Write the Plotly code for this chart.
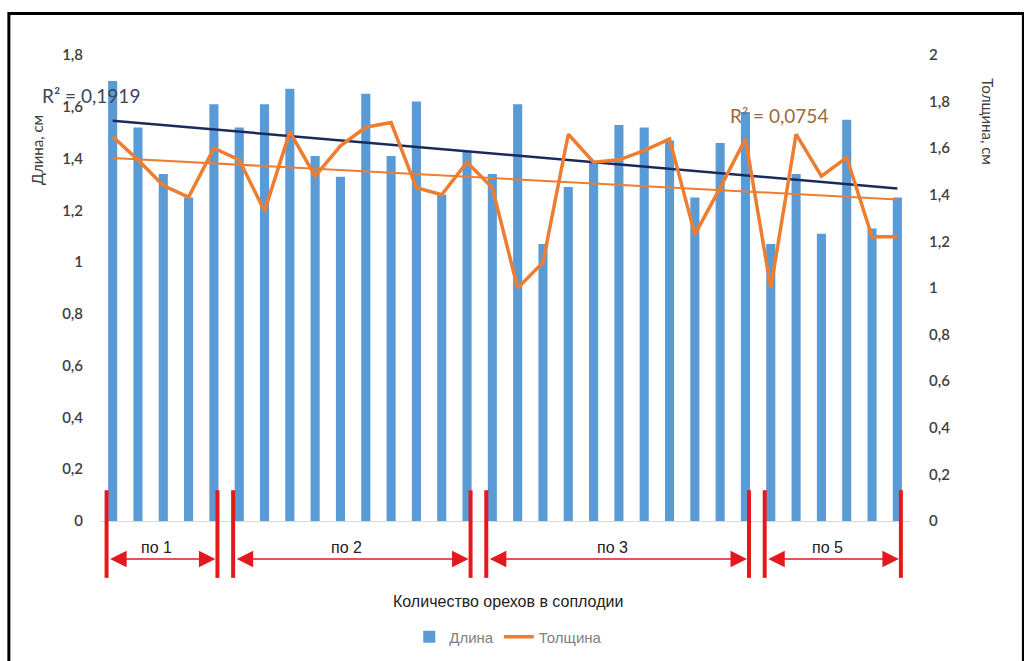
import numpy as np
import plotly.graph_objects as go

# ---- data ----
dlina = [1.70, 1.52, 1.34, 1.25, 1.61,
         1.52, 1.61, 1.67, 1.41, 1.33, 1.65, 1.41, 1.62, 1.26, 1.43,
         1.34, 1.61, 1.07, 1.29, 1.39, 1.53, 1.52, 1.47, 1.25, 1.46, 1.58,
         1.07, 1.34, 1.11, 1.55, 1.13, 1.25]
tolshchina = [1.65, 1.55, 1.44, 1.39, 1.60,
              1.55, 1.33, 1.67, 1.48, 1.61, 1.69, 1.71, 1.43, 1.40, 1.54,
              1.43, 1.00, 1.11, 1.66, 1.54, 1.55, 1.59, 1.64, 1.23, 1.43, 1.64,
              1.00, 1.66, 1.48, 1.56, 1.22, 1.22]
group_labels = ["по 1", "по 2", "по 3", "по 5"]
group_sizes = [5, 10, 11, 6]
r2_texts = ["R² = 0,1919", "R² = 0,0754"]
left_title = "Длина, см"
right_title = "Толщина, см"
x_title = "Количество орехов в соплодии"

x = np.arange(len(dlina))

# linear trendlines
k1, b1 = np.polyfit(x, dlina, 1)
k2, b2 = np.polyfit(x, tolshchina, 1)
trend1 = k1 * x + b1
trend2 = k2 * x + b2

BLUE = "#5B9BD5"
ORANGE = "#ED7D31"
NAVY = "#1B2A5C"
RED = "#E3191E"

fig = go.Figure()
fig.add_trace(go.Bar(x=x, y=dlina, name="Длина", marker_color=BLUE,
                     marker_line_width=0, yaxis="y"))
fig.add_trace(go.Scatter(x=x, y=trend1, mode="lines", line=dict(color=NAVY, width=2.5),
                         showlegend=False, yaxis="y", hoverinfo="skip"))
fig.add_trace(go.Scatter(x=x, y=tolshchina, name="Толщина", mode="lines",
                         line=dict(color=ORANGE, width=3.5), yaxis="y2"))
fig.add_trace(go.Scatter(x=x, y=trend2, mode="lines", line=dict(color=ORANGE, width=2),
                         showlegend=False, yaxis="y2", hoverinfo="skip"))

tickfont = dict(family="Lato, Carlito, sans-serif", size=15, color="#404040", weight=600)

fig.update_layout(
    width=1024, height=661,
    margin=dict(l=100, r=114, t=55, b=140, autoexpand=False),
    paper_bgcolor="white", plot_bgcolor="white",
    separators=", ",
    bargap=0.64,
    showlegend=True,
    legend=dict(orientation="h", x=0.504, xanchor="center", y=-0.249, yanchor="middle",
                font=dict(family="Liberation Sans, Arial, sans-serif", size=15, color="#7F7F7F"),
                itemwidth=30, tracegroupgap=0),
    xaxis=dict(range=[-0.5, len(dlina) - 0.5], showticklabels=False, ticks="",
               showgrid=False, zeroline=False, showline=False),
    yaxis=dict(range=[0, 1.8], dtick=0.2, showgrid=False, zeroline=True,
               zerolinecolor="#D9D9D9", zerolinewidth=1, showline=False,
               tickfont=tickfont, ticks="", ticklabelstandoff=16),
    yaxis2=dict(range=[0, 2.0], dtick=0.2, overlaying="y", side="right", showgrid=False,
                zeroline=False, showline=False, tickfont=tickfont, ticks="",
                ticklabelstandoff=18),
)

annotations = []
shapes = []

# axis titles
annotations.append(dict(text=left_title, xref="paper", yref="paper", x=-0.078, y=0.796,
                        xanchor="center", yanchor="middle",
                        textangle=-90, showarrow=False,
                        font=dict(family="Lato, sans-serif", size=15, color="#404040")))
annotations.append(dict(text=right_title, xref="paper", yref="paper", x=1.096, y=0.856,
                        xanchor="center", yanchor="middle",
                        textangle=90, showarrow=False,
                        font=dict(family="Lato, sans-serif", size=15, color="#404040")))
annotations.append(dict(text=x_title, xref="paper", yref="paper", x=0.504, y=-0.172,
                        showarrow=False, yanchor="middle",
                        font=dict(family="Liberation Sans, Arial, sans-serif", size=16,
                                  color="#222222")))
# R² labels
annotations.append(dict(text=r2_texts[0], xref="paper", yref="paper", x=-0.074, y=0.914,
                        xanchor="left", yanchor="middle", showarrow=False,
                        font=dict(family="Lato, sans-serif", size=19, color="#3E4660")))
annotations.append(dict(text=r2_texts[1], xref="paper", yref="paper", x=0.775, y=0.871,
                        xanchor="left", yanchor="middle", showarrow=False,
                        font=dict(family="Lato, sans-serif", size=19, color="#9A6A3E")))

# group brackets
start = 0
pad_l, pad_r = 0.24, 0.14
for lab, n in zip(group_labels, group_sizes):
    left = start - pad_l
    right = start + n - 1 + pad_r
    for xv in (left, right):
        shapes.append(dict(type="line", xref="x", yref="paper", x0=xv, x1=xv,
                           y0=0.066, y1=-0.122, line=dict(color=RED, width=4)))
    annotations.append(dict(x=right - 0.08, y=-0.0815, ax=left + 0.08, ay=0,
                            xref="x", yref="paper", axref="x", ayref="pixel",
                            text="", showarrow=True, arrowhead=2, arrowside="end+start",
                            arrowsize=2.2, arrowwidth=1.5, arrowcolor=RED,
                            startarrowhead=2, startarrowsize=2.2))
    annotations.append(dict(text=lab, x=(left + right) / 2 - 0.2, y=-0.056, xref="x",
                            yref="paper", showarrow=False, yanchor="middle",
                            font=dict(family="Liberation Sans, Arial, sans-serif", size=16,
                                      color="#222222")))
    start += n

# outer frame
shapes.append(dict(type="rect", xref="paper", yref="paper", x0=-0.1125, x1=1.14,
                   y0=-0.45, y1=1.089, line=dict(color="black", width=3),
                   fillcolor="rgba(0,0,0,0)", layer="above"))

fig.update_layout(annotations=annotations, shapes=shapes)
fig.write_html("out.html", config={"displayModeBar": False},
               post_script="document.body.style.margin='0';document.body.style.padding='0';")
